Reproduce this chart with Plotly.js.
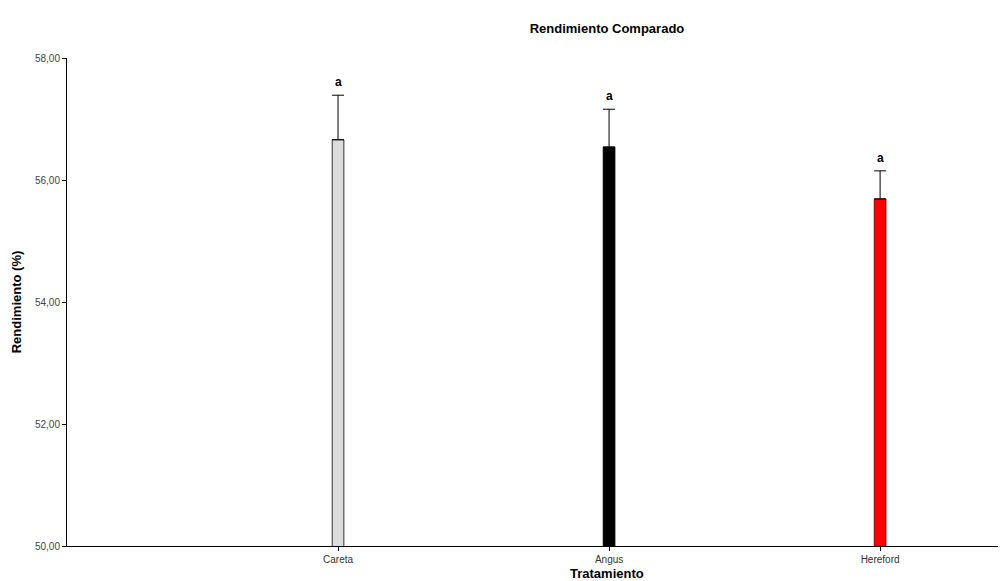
<!DOCTYPE html>
<html><head><meta charset="utf-8">
<script src="https://cdn.plot.ly/plotly-3.0.1.min.js"></script>
<style>html,body{margin:0;padding:0;background:#fff}</style>
</head><body>
<div id="chart" style="width:1001px;height:581px"></div>
<script>
const categories = ["Careta", "Angus", "Hereford"];
const means = [56.66, 56.54, 55.69];
const errUp = [0.73, 0.62, 0.46];
const letters = ["a", "a", "a"];
const barColors = ["#dcdcdc", "#000000", "#ff0000"];
const barLines = ["#333333", "#000000", "#8b0000"];
const yTicks = [50, 52, 54, 56, 58];

const xs = categories.map((c, i) => i);

const trace = {
  type: "bar",
  x: xs,
  y: means,
  width: 0.043,
  marker: {color: barColors, line: {color: barLines, width: 1}},
  error_y: {type: "data", symmetric: false, array: errUp, arrayminus: errUp.map(() => 0),
            color: "#000", thickness: 1, width: 6},
  hoverinfo: "x+y"
};

const annotations = xs.map((x, i) => ({
  x: x, y: means[i] + errUp[i], xref: "x", yref: "y",
  text: letters[i], showarrow: false, yanchor: "bottom", yshift: 4,
  font: {family: "Liberation Sans, Arial", size: 12, color: "#000", weight: "bold"}
}));
annotations.push({
  xref: "paper", yref: "paper", x: (607 - 67) / 931, y: 0, yshift: -18,
  text: "Tratamiento", showarrow: false, xanchor: "center", yanchor: "top",
  font: {family: "Liberation Sans, Arial", size: 13, color: "#000", weight: "bold"}
});

const layout = {
  width: 1001, height: 581,
  margin: {l: 67, r: 3, t: 58, b: 35},
  paper_bgcolor: "#fff", plot_bgcolor: "#fff",
  separators: ",.",
  showlegend: false,
  title: {text: "Rendimiento Comparado", x: 607 / 1001, xanchor: "center", y: 1 - 28 / 581, yanchor: "middle",
          font: {family: "Liberation Sans, Arial", size: 13, color: "#000", weight: "bold"}},
  xaxis: {
    range: [-1, 2.435], tickvals: xs, ticktext: categories,
    showgrid: false, zeroline: false, showline: true, linecolor: "#000", linewidth: 1,
    ticks: "outside", ticklen: 4, tickcolor: "#000",
    tickfont: {family: "Liberation Sans Narrow, Liberation Sans, Arial", size: 10, color: "#333"},
    fixedrange: true
  },
  yaxis: {
    range: [50, 58], tickvals: yTicks, ticktext: yTicks.map(v => v.toFixed(2).replace(".", ",")),
    showgrid: false, zeroline: false, showline: true, linecolor: "#000", linewidth: 1,
    ticks: "outside", ticklen: 4, tickcolor: "#000",
    tickfont: {family: "Liberation Sans Narrow, Liberation Sans, Arial", size: 10, color: "#444"},
    title: {text: "Rendimiento (%)", standoff: 10,
            font: {family: "Liberation Sans, Arial", size: 13, color: "#000", weight: "bold"}},
    fixedrange: true
  },
  annotations: annotations
};
Plotly.newPlot("chart", [trace], layout, {displayModeBar: false, staticPlot: true});
</script>
</body></html>
